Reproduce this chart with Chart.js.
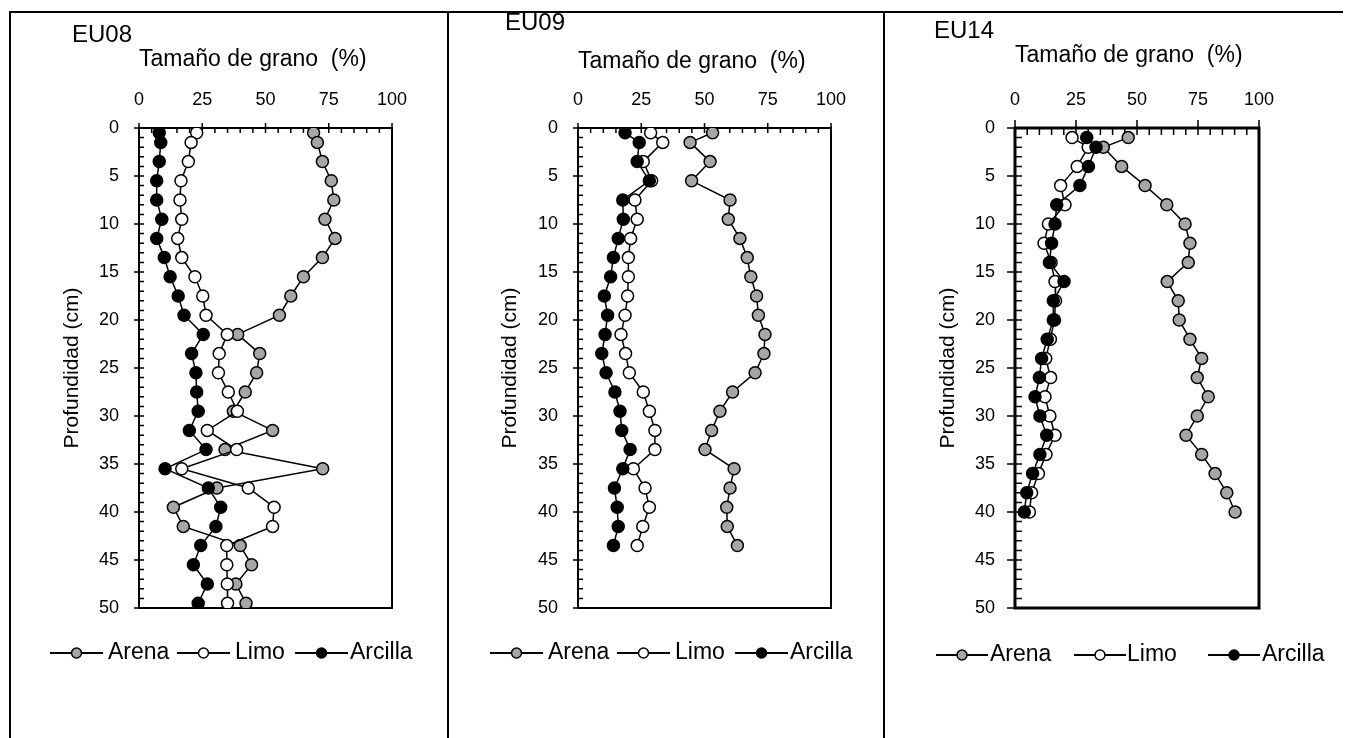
<!DOCTYPE html>
<html>
<head>
<meta charset="utf-8">
<script src="https://cdn.jsdelivr.net/npm/chart.js@4.4.1/dist/chart.umd.min.js"></script>
<style>
  body { margin: 0; background: #fff; width: 1359px; height: 738px; overflow: hidden; position: relative; font-family: "Liberation Sans", Arial, sans-serif; }
  canvas { position: absolute; top: 0; }
  .ln { position: absolute; background: #000; }
  .tag { position: absolute; font-size: 24px; line-height: 24px; color: #000; }
</style>
</head>
<body>
<canvas id="eu08" width="448" height="738" style="left:0px"></canvas>
<canvas id="eu09" width="436" height="738" style="left:448px"></canvas>
<canvas id="eu14" width="475" height="738" style="left:884px"></canvas>

<div class="ln" style="left:9px;top:11px;width:1334px;height:2px"></div>
<div class="ln" style="left:9px;top:11px;width:2px;height:727px"></div>
<div class="ln" style="left:447px;top:11px;width:2px;height:727px"></div>
<div class="ln" style="left:883px;top:11px;width:2px;height:727px"></div>

<div class="tag" style="left:72px;top:22px">EU08</div>
<div class="tag" style="left:505px;top:10px">EU09</div>
<div class="tag" style="left:934px;top:18px">EU14</div>

<script>
// profundidad (cm) de cada muestra
const depthEU08 = [0.5, 1.5, 3.5, 5.5, 7.5, 9.5, 11.5, 13.5, 15.5, 17.5, 19.5, 21.5, 23.5,
                   25.5, 27.5, 29.5, 31.5, 33.5, 35.5, 37.5, 39.5, 41.5, 43.5, 45.5, 47.5, 49.5];
const arenaEU08   = [69, 70.5, 72.5, 76, 77, 73.5, 77.5, 72.5, 65, 60, 55.5, 39, 47.7,
                     46.5, 42, 37.3, 52.8, 34, 72.6, 30.8, 13.6, 17.5, 40, 44.5, 38.3, 42.3];
const limoEU08    = [22.8, 20.6, 19.5, 16.6, 16.2, 16.9, 15.3, 16.9, 22.1, 25.2, 26.5, 34.9, 31.7,
                     31.4, 35.3, 38.9, 27, 38.6, 16.9, 43.2, 53.4, 52.8, 34.7, 34.7, 34.9, 35];
const arcillaEU08 = [8, 8.6, 8, 7, 7, 9, 7, 10, 12.3, 15.5, 17.8, 25.4, 20.8,
                     22.5, 22.8, 23.4, 19.9, 26.5, 10.3, 27.4, 32.3, 30.4, 24.4, 21.5, 27, 23.4];

const depthEU09 = [0.5, 1.5, 3.5, 5.5, 7.5, 9.5, 11.5, 13.5, 15.5, 17.5, 19.5, 21.5,
                   23.5, 25.5, 27.5, 29.5, 31.5, 33.5, 35.5, 37.5, 39.5, 41.5, 43.5];
const arenaEU09   = [53.2, 44.3, 52.2, 44.9, 60.1, 59.4, 64, 66.9, 68.3, 70.6, 71.3, 73.9,
                     73.5, 70, 61.1, 56.1, 52.8, 50.2, 61.7, 60.1, 58.8, 59, 63];
const limoEU09    = [28.7, 33.5, 25.8, 29.1, 22.5, 23.4, 20.8, 19.9, 19.9, 19.6, 18.6, 17,
                     18.8, 20.3, 25.8, 28.2, 30.4, 30.4, 21.9, 26.5, 28.2, 25.6, 23.4];
const arcillaEU09 = [18.6, 24.2, 23.4, 28.2, 17.7, 17.9, 15.9, 14, 12.9, 10.4, 11.7, 10.7,
                     9.4, 11.1, 14.6, 16.6, 17.3, 20.6, 17.7, 14.4, 15.5, 15.9, 14];

const depthEU14 = [1, 2, 4, 6, 8, 10, 12, 14, 16, 18, 20, 22, 24, 26, 28, 30, 32, 34, 36, 38, 40];
const arenaEU14   = [46.4, 36.2, 43.7, 53.3, 62.2, 69.7, 71.7, 71, 62.4, 66.9, 67.3,
                     71.7, 76.5, 74.7, 79.2, 74.7, 70.1, 76.5, 82, 86.8, 90.2];
const limoEU14    = [23.4, 30, 25.5, 18.7, 20.5, 13.7, 11.9, 14.8, 16.4, 16.6, 16.2,
                     14.5, 12.6, 14.6, 12.3, 14.3, 16.4, 12.7, 9.6, 6.8, 5.9];
const arcillaEU14 = [29.4, 33.2, 30.1, 26.6, 17.1, 16.4, 15, 14.1, 20.1, 15.7, 15.7,
                     13.2, 10.9, 10, 8.2, 10.2, 13, 10.2, 7.2, 4.8, 3.8];

const seriesNames = ['Arena', 'Limo', 'Arcilla'];
const xTicks = [0, 25, 50, 75, 100];

const FONT = '"Liberation Sans", Arial, sans-serif';
const GRAY = '#a6a6a6';
const X_TITLE = 23, Y_TITLE = 21, TICK = 18;

// marco, ticks mayores y menores
const frame = {
  id: 'frame',
  beforeDatasetsDraw(chart, args, o) {
    const { ctx, chartArea: a, scales: { x, y } } = chart;
    ctx.save();
    ctx.strokeStyle = '#000';
    ctx.lineWidth = o.lw;
    ctx.strokeRect(a.left, a.top, a.right - a.left, a.bottom - a.top);
    ctx.lineWidth = o.tw;
    ctx.beginPath();
    for (let v = 0; v <= 100; v += 5) {
      const px = x.getPixelForValue(v);
      const major = v % 25 === 0;
      ctx.moveTo(px, major ? a.top - o.out : a.top);
      ctx.lineTo(px, a.top + o.in);
    }
    for (let d = 0; d <= 50; d += 1) {
      const py = y.getPixelForValue(d);
      const major = d % 5 === 0;
      ctx.moveTo(major ? a.left - o.out : a.left, py);
      ctx.lineTo(a.left + o.in, py);
    }
    ctx.stroke();
    ctx.restore();
  }
};

// leyenda con simbolo linea-marcador-linea
const symLegend = {
  id: 'symLegend',
  afterDraw(chart, args, o) {
    const ctx = chart.ctx;
    ctx.save();
    ctx.font = o.size + 'px ' + FONT;
    ctx.textBaseline = 'middle';
    chart.data.datasets.forEach((ds, i) => {
      const sx = o.sym[i] - o.dx, tx = o.txt[i] - o.dx, y = o.y;
      ctx.strokeStyle = '#000';
      ctx.lineWidth = 2;
      ctx.beginPath();
      ctx.moveTo(sx, y);
      ctx.lineTo(sx + o.len, y);
      ctx.stroke();
      ctx.beginPath();
      ctx.arc(sx + o.len / 2, y, 5, 0, Math.PI * 2);
      ctx.fillStyle = ds.backgroundColor;
      ctx.fill();
      ctx.lineWidth = 1.5;
      ctx.stroke();
      ctx.fillStyle = '#000';
      ctx.fillText(ds.label, tx, y);
    });
    ctx.restore();
  }
};

function profile(id, g, depth, arena, limo, arcilla) {
  const pts = vals => vals.map((v, i) => ({ x: v, y: depth[i] }));
  const fills = [GRAY, '#fff', '#000'];
  const datasets = [arena, limo, arcilla].map((vals, i) => ({
    label: seriesNames[i],
    data: pts(vals),
    order: 3 - i,
    showLine: true,
    borderColor: '#000',
    borderWidth: 1.5,
    backgroundColor: fills[i],
    pointBackgroundColor: fills[i],
    pointBorderColor: '#000',
    pointBorderWidth: 1.5,
    pointRadius: 6,
    pointHoverRadius: 6
  }));

  const hy = Y_TITLE * 1.2 / 2, hx = X_TITLE * 1.2 / 2;
  const yW = g.l - (g.yTitle - hy);
  const xH = g.t - (g.xTitle - hx);

  new Chart(document.getElementById(id), {
    type: 'scatter',
    data: { datasets },
    options: {
      responsive: false,
      animation: false,
      events: [],
      layout: {
        padding: { left: g.yTitle - hy - g.dx, right: g.dx + g.w - g.r, top: g.xTitle - hx, bottom: 738 - g.b }
      },
      plugins: {
        legend: { display: false },
        tooltip: { enabled: false },
        frame: g.frame,
        symLegend: Object.assign({ dx: g.dx }, g.legend)
      },
      scales: {
        x: {
          type: 'linear', position: 'top', min: 0, max: 100,
          afterBuildTicks: s => { s.ticks = xTicks.map(v => ({ value: v })); },
          afterFit: s => { s.height = xH; },
          ticks: { padding: 17, color: '#000', font: { family: FONT, size: TICK } },
          grid: { display: false, drawTicks: false },
          border: { display: false },
          title: { display: true, align: 'start', text: 'Tamaño de grano  (%)', color: '#000', padding: 0, font: { family: FONT, size: X_TITLE } }
        },
        y: {
          type: 'linear', reverse: true, min: 0, max: 50,
          afterFit: s => { s.width = yW; },
          ticks: { stepSize: 5, padding: 20, color: '#000', font: { family: FONT, size: TICK } },
          grid: { display: false, drawTicks: false },
          border: { display: false },
          title: { display: true, text: 'Profundidad (cm)', color: '#000', padding: 0, font: { family: FONT, size: Y_TITLE } }
        }
      }
    },
    plugins: [frame, symLegend]
  });
}

profile('eu08', {
  dx: 0, w: 448, l: 139, r: 392, t: 128, b: 608, yTitle: 72, xTitle: 60,
  frame: { lw: 2, tw: 1.5, out: 5, in: 5 },
  legend: { y: 653, size: 23, len: 53, sym: [50, 177, 295], txt: [108, 235, 350] }
}, depthEU08, arenaEU08, limoEU08, arcillaEU08);

profile('eu09', {
  dx: 448, w: 436, l: 578, r: 831, t: 128, b: 608, yTitle: 510, xTitle: 62,
  frame: { lw: 2, tw: 1.5, out: 5, in: 5 },
  legend: { y: 653, size: 23, len: 53, sym: [490, 617, 735], txt: [548, 675, 790] }
}, depthEU09, arenaEU09, limoEU09, arcillaEU09);

profile('eu14', {
  dx: 884, w: 475, l: 1015, r: 1259, t: 128, b: 608, yTitle: 948, xTitle: 56,
  frame: { lw: 3, tw: 1.5, out: 8, in: 7 },
  legend: { y: 655, size: 23, len: 52, sym: [936, 1074, 1208], txt: [990, 1127, 1262] }
}, depthEU14, arenaEU14, limoEU14, arcillaEU14);
</script>
</body>
</html>
